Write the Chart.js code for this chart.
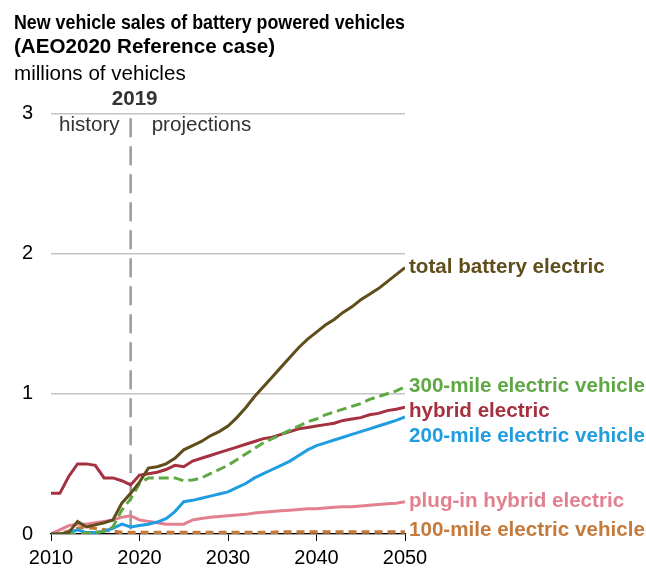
<!DOCTYPE html>
<html>
<head>
<meta charset="utf-8">
<script src="https://cdn.jsdelivr.net/npm/chart.js@4.4.1/dist/chart.umd.min.js"></script>
<style>
  html, body { margin: 0; padding: 0; background: #fff; }
  #wrap { width: 646px; height: 568px; }
</style>
</head>
<body>
<div id="wrap"><canvas id="ev-chart" width="646" height="568"></canvas></div>
<script>
// Annual values, millions of vehicles
const years = [2010, 2011, 2012, 2013, 2014, 2015, 2016, 2017, 2018, 2019,
  2020, 2021, 2022, 2023, 2024, 2025, 2026, 2027, 2028, 2029,
  2030, 2031, 2032, 2033, 2034, 2035, 2036, 2037, 2038, 2039,
  2040, 2041, 2042, 2043, 2044, 2045, 2046, 2047, 2048, 2049, 2050];

const totalBattery = [0, 0, 0.01, 0.09, 0.05, 0.065, 0.08, 0.10, 0.22, 0.29,
  0.37, 0.47, 0.48, 0.50, 0.54, 0.60, 0.63, 0.66, 0.70, 0.73,
  0.77, 0.83, 0.90, 0.98, 1.05, 1.12, 1.19, 1.26, 1.33, 1.39,
  1.44, 1.49, 1.53, 1.58, 1.62, 1.67, 1.71, 1.75, 1.80, 1.85, 1.90];

const mile300 = [0, 0, 0, 0, 0.005, 0.01, 0.02, 0.05, 0.17, 0.25,
  0.36, 0.40, 0.40, 0.40, 0.40, 0.38, 0.385, 0.40, 0.43, 0.46,
  0.49, 0.53, 0.57, 0.61, 0.65, 0.68, 0.71, 0.74, 0.77, 0.80,
  0.82, 0.85, 0.87, 0.89, 0.91, 0.93, 0.96, 0.98, 1.00, 1.02, 1.05];

const hybridElectric = [0.29, 0.29, 0.41, 0.50, 0.50, 0.49, 0.40, 0.40, 0.38, 0.35,
  0.42, 0.43, 0.44, 0.46, 0.49, 0.48, 0.52, 0.54, 0.56, 0.58,
  0.60, 0.62, 0.64, 0.66, 0.68, 0.69, 0.71, 0.73, 0.75, 0.76,
  0.77, 0.78, 0.79, 0.81, 0.82, 0.83, 0.85, 0.86, 0.88, 0.89, 0.905];

const mile200 = [0, 0, 0.01, 0.03, 0.01, 0.01, 0.02, 0.04, 0.07, 0.05,
  0.06, 0.07, 0.085, 0.11, 0.16, 0.23, 0.24, 0.255, 0.27, 0.285,
  0.30, 0.33, 0.36, 0.40, 0.43, 0.46, 0.49, 0.52, 0.56, 0.60,
  0.63, 0.65, 0.67, 0.69, 0.71, 0.73, 0.75, 0.77, 0.79, 0.81, 0.835];

const plugInHybrid = [0, 0.03, 0.06, 0.07, 0.07, 0.08, 0.09, 0.10, 0.12, 0.13,
  0.10, 0.09, 0.08, 0.07, 0.07, 0.07, 0.10, 0.11, 0.12, 0.125,
  0.13, 0.135, 0.14, 0.15, 0.155, 0.16, 0.165, 0.17, 0.175, 0.18,
  0.18, 0.185, 0.19, 0.195, 0.195, 0.20, 0.205, 0.21, 0.215, 0.22, 0.23];

const mile100 = [0, 0, 0.02, 0.04, 0.05, 0.04, 0.03, 0.02, 0.01, 0.01,
  0.01, 0.01, 0.01, 0.01, 0.01, 0.01, 0.01, 0.01, 0.01, 0.01,
  0.01, 0.01, 0.01, 0.01, 0.01, 0.01, 0.015, 0.015, 0.015, 0.015,
  0.015, 0.015, 0.015, 0.015, 0.015, 0.015, 0.015, 0.015, 0.015, 0.015, 0.015];

const seriesNames = ["total battery electric", "300-mile electric vehicle", "hybrid electric",
  "200-mile electric vehicle", "plug-in hybrid electric", "100-mile electric vehicle"];

const yTicks = [0, 1, 2, 3];
const xTicks = [2010, 2020, 2030, 2040, 2050];
const splitYear = 2019;

const FONT = "'Liberation Sans', Arial, sans-serif";
const TEXT_SIZE = 20.6;

// turn a value array into {x, y} points
function toPoints(values) {
  return values.map((v, i) => ({ x: years[i], y: v }));
}

// dashed 2019 divider, history/projections captions, end-of-line labels
const annotations = {
  id: "annotations",
  beforeDatasetsDraw(chart) {
    const { ctx, chartArea, scales } = chart;
    const x = scales.x.getPixelForValue(splitYear);
    ctx.save();
    ctx.strokeStyle = "#9b9b9b";
    ctx.lineWidth = 2.5;
    ctx.setLineDash([19, 9]);
    ctx.beginPath();
    ctx.moveTo(x, chartArea.top + 5);
    ctx.lineTo(x, chartArea.bottom);
    ctx.stroke();
    ctx.restore();
  },
  afterDraw(chart) {
    const { ctx, chartArea, scales } = chart;
    const x = scales.x.getPixelForValue(splitYear);
    ctx.save();
    ctx.fillStyle = "#333333";
    ctx.textBaseline = "alphabetic";
    ctx.font = `bold ${TEXT_SIZE}px ${FONT}`;
    ctx.textAlign = "center";
    ctx.fillText(String(splitYear), x + 4, chartArea.top - 8);
    ctx.font = `${TEXT_SIZE}px ${FONT}`;
    ctx.textAlign = "right";
    ctx.fillText("history", x - 11, chartArea.top + 18);
    ctx.textAlign = "left";
    ctx.fillText("projections", x + 21, chartArea.top + 18);

    // labels at the right end of each line
    const labelShift = [0, 0, 4, 19, 0, -2];
    ctx.font = `bold ${TEXT_SIZE}px ${FONT}`;
    ctx.textBaseline = "middle";
    chart.data.datasets.forEach((ds, i) => {
      const last = ds.data[ds.data.length - 1];
      const y = scales.y.getPixelForValue(last.y) + labelShift[i];
      ctx.fillStyle = ds.borderColor;
      ctx.fillText(seriesNames[i], chartArea.right + 4, y);
    });
    ctx.restore();
  }
};

const colors = ["#5f4d1c", "#5ea843", "#a5303f", "#1f9de0", "#e3808f", "#c47a3b"];
const values = [totalBattery, mile300, hybridElectric, mile200, plugInHybrid, mile100];
const dashes = [[], [10, 5], [], [], [], [8, 5]];
const widths = [3, 3, 3, 3, 3, 3.5];

const chartArea = document.querySelector("#ev-chart").getContext("2d");
new Chart(chartArea, {
  type: "line",
  data: {
    datasets: values.map((vals, i) => ({
      label: seriesNames[i],
      data: toPoints(vals),
      borderColor: colors[i],
      borderWidth: widths[i],
      borderDash: dashes[i],
      pointRadius: 0,
      tension: 0,
      fill: false
    }))
  },
  options: {
    responsive: false,
    animation: false,
    layout: { padding: { left: 14, right: 241, top: 0, bottom: 0 } },
    plugins: {
      legend: { display: false },
      tooltip: { enabled: false },
      title: {
        display: true,
        align: "start",
        text: ["New vehicle sales of battery powered vehicles", "(AEO2020 Reference case)"],
        color: "#000",
        font: { family: FONT, size: TEXT_SIZE, weight: "bold", lineHeight: 1.17 },
        padding: { top: 11, bottom: 3 }
      },
      subtitle: {
        display: true,
        align: "start",
        text: "millions of vehicles",
        color: "#000",
        font: { family: FONT, size: TEXT_SIZE, weight: "normal", lineHeight: 1.17 },
        padding: { top: 0, bottom: 27 }
      }
    },
    scales: {
      x: {
        type: "linear",
        min: 2010,
        max: 2050,
        afterBuildTicks: (scale) => { scale.ticks = xTicks.map(v => ({ value: v })); },
        afterFit: (scale) => { scale.height = 34; },
        ticks: {
          color: "#000",
          font: { family: FONT, size: 20 },
          padding: 5,
          maxRotation: 0,
          callback: (v) => String(v)
        },
        grid: { drawOnChartArea: false, drawTicks: true, tickLength: 7, color: "#000", lineWidth: 1 },
        border: { display: true, color: "#000", width: 1.3 }
      },
      y: {
        min: 0,
        max: 3,
        afterBuildTicks: (scale) => { scale.ticks = yTicks.map(v => ({ value: v })); },
        afterFit: (scale) => { scale.width = 37; },
        ticks: {
          color: "#000",
          font: { family: FONT, size: 20 },
          padding: 18
        },
        grid: { color: "#c4c4c4", lineWidth: 1.5, drawTicks: false },
        border: { display: false }
      }
    }
  },
  plugins: [annotations]
});
</script>
</body>
</html>
